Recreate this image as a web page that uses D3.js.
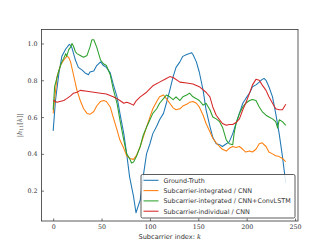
<!DOCTYPE html>
<html><head><meta charset="utf-8">
<script src="https://cdn.jsdelivr.net/npm/d3@7"></script>
<style>body{margin:0;background:#fff}svg{display:block}</style>
</head><body>
<svg id="c" width="332" height="249"></svg>
<script>
const kGT = [0,2.4,6,9,13,16.7,18,19.5,23,26,30,33,36.5,38,42,45,49,52,55,59,62,66,69,73,76,79,83,85.6,90,93,96.5,100,103,107,110,114,117,120.5,124,127,131,134,138,141,143,144.5,148,151,155,158,162,165,168.5,172,175,179,182,185.6,189,192.5,196,199,203,206,209.6,213,216,218,220,223,226.7,230,233.6,237,240.4];
const vGT = [0.525,0.69,0.84,0.93,0.97,0.995,0.99,0.975,0.91,0.87,0.855,0.84,0.83,0.845,0.85,0.88,0.90,0.88,0.87,0.84,0.78,0.71,0.62,0.51,0.40,0.275,0.17,0.08,0.15,0.275,0.40,0.455,0.51,0.55,0.585,0.62,0.675,0.745,0.82,0.87,0.90,0.93,0.94,0.945,0.95,0.94,0.90,0.845,0.745,0.64,0.55,0.49,0.455,0.45,0.44,0.455,0.465,0.51,0.565,0.62,0.675,0.70,0.73,0.765,0.775,0.79,0.805,0.81,0.80,0.765,0.71,0.62,0.51,0.385,0.24];

const kS = [0,4,7.5,11,14,16,18,21,24.6,28,31.5,35,38,42,45,49,52,55,59,62,66,69,73,76,79,83,86,90,93,96.5,100,103,107,110,114,117,120.5,124,127,131,134,138,141,144.5,148,151,155,158,162,165,168.5,172,175,179,182,185.6,189,192.5,196,199,203,206,209.6,213,216,220,223,226.7,230,233.6,237,239,240.4];
const vCNN = [0.62,0.82,0.88,0.91,0.93,0.925,0.90,0.83,0.745,0.69,0.645,0.62,0.615,0.63,0.66,0.685,0.69,0.685,0.655,0.60,0.53,0.475,0.43,0.39,0.375,0.37,0.39,0.44,0.49,0.545,0.60,0.645,0.685,0.71,0.72,0.70,0.675,0.65,0.64,0.645,0.66,0.67,0.68,0.685,0.675,0.655,0.61,0.565,0.52,0.485,0.46,0.44,0.425,0.415,0.43,0.44,0.435,0.44,0.425,0.41,0.415,0.41,0.425,0.455,0.46,0.44,0.41,0.40,0.39,0.385,0.375,0.365,0.357];

const kL = [0,1.5,6,9,11,13,14,16,18,19.5,21,23,24.6,28,31.5,35,38,40,42,45,49,52,55,59,62,66,69,73,76,79,81,83,86,90,93,96.5,100,103,107,110,114,117,120.5,124,127,131,134,138,141,144.5,148,151,155,158,162,165,168.5,172,175,179,182,185.6,187,189,192.5,196,199,203,206,209.6,213,216,220,223,226.7,230,232,233.6,237,240.4];
const vLSTM = [0.64,0.765,0.855,0.90,0.92,0.945,0.93,0.965,0.98,1.0,0.985,0.955,0.945,0.935,0.925,0.935,0.98,1.02,1.02,0.98,0.91,0.89,0.88,0.83,0.755,0.675,0.585,0.475,0.40,0.375,0.35,0.355,0.385,0.44,0.50,0.545,0.585,0.62,0.645,0.675,0.70,0.72,0.71,0.695,0.71,0.69,0.71,0.72,0.73,0.71,0.70,0.69,0.665,0.675,0.64,0.60,0.59,0.575,0.545,0.475,0.455,0.45,0.51,0.565,0.62,0.655,0.675,0.69,0.695,0.69,0.655,0.63,0.61,0.60,0.59,0.575,0.54,0.585,0.575,0.555];

const kR = [0,4,11,14,18,21,24.6,28,35,42,49,55,62,66,69,73,76,79,83,86,90,96.5,103,110,117,120.5,124,131,138,144.5,151,158,162,165,168.5,172,175,179,182,185.6,189,192.5,196,199,203,206,209.6,213,216,220,223,226.7,230,233.6,237,240.4];
const vIND = [0.69,0.68,0.69,0.70,0.715,0.73,0.735,0.745,0.74,0.735,0.73,0.725,0.71,0.70,0.69,0.675,0.68,0.675,0.665,0.69,0.71,0.735,0.77,0.79,0.81,0.82,0.815,0.79,0.785,0.78,0.765,0.735,0.71,0.655,0.61,0.585,0.565,0.555,0.56,0.56,0.57,0.59,0.64,0.675,0.73,0.775,0.805,0.80,0.775,0.745,0.71,0.675,0.645,0.64,0.64,0.67];

const seriesNames = ["Ground-Truth","Subcarrier-integrated / CNN","Subcarrier-integrated / CNN+ConvLSTM","Subcarrier-individual / CNN"];
const colors = ["#1f77b4","#ff7f0e","#2ca02c","#d62728"];
const xTicks = [0,50,100,150,200,250];
const yTicks = [0.2,0.4,0.6,0.8,1.0];

const series = [
  {k:kGT, v:vGT}, {k:kS, v:vCNN}, {k:kL, v:vLSTM}, {k:kR, v:vIND}
];

const svg = d3.select("#c");
const L = 41.5, R = 298, T = 29.5, B = 221;
const x = d3.scaleLinear().domain([-12.05, 253.05]).range([L, R]);
const y = d3.scaleLinear().domain([0.035, 1.076]).range([B, T]);

const line = d3.line().x(d => x(d[0])).y(d => y(d[1]));
series.forEach((s, i) => {
  svg.append("path")
    .attr("d", line(s.k.map((kk, j) => [kk, s.v[j]])))
    .attr("fill", "none").attr("stroke", colors[i])
    .attr("stroke-width", 1.05).attr("stroke-linejoin", "round");
});

// axes
const xa = d3.axisBottom(x).tickValues(xTicks).tickSize(-2.5).tickPadding(4).tickFormat(d3.format("d"));
const ya = d3.axisLeft(y).tickValues(yTicks).tickSize(-2.5).tickPadding(4).tickFormat(d3.format(".1f"));
const gx = svg.append("g").attr("transform", `translate(0,${B})`).call(xa);
const gy = svg.append("g").attr("transform", `translate(${L},0)`).call(ya);
[gx, gy].forEach(g => {
  g.select(".domain").remove();
  g.selectAll("line").attr("stroke", "#333").attr("stroke-width", 0.7);
  g.selectAll("text").attr("font-family", "DejaVu Serif, Liberation Serif, serif").attr("font-size", 6.3).attr("fill", "#333");
});
svg.append("rect").attr("x", L).attr("y", T).attr("width", R - L).attr("height", B - T)
  .attr("fill", "none").attr("stroke", "#333").attr("stroke-width", 0.8);

// labels
const xl = svg.append("text").attr("x", (L + R) / 2).attr("y", 238.5).attr("text-anchor", "middle")
  .attr("font-family", "DejaVu Sans, sans-serif").attr("font-size", 6.6).attr("fill", "#333");
xl.append("tspan").text("Subcarrier index: ");
xl.append("tspan").attr("font-family", "DejaVu Serif, serif").attr("font-style", "italic").text("k");

const yl = svg.append("text").attr("transform", `translate(21.5,${(T + B) / 2}) rotate(-90)`).attr("text-anchor", "middle")
  .attr("font-family", "DejaVu Serif, serif").attr("font-size", 6.6).attr("fill", "#555");
yl.append("tspan").text("|");
yl.append("tspan").attr("font-style", "italic").text("h");
yl.append("tspan").attr("font-size", 4.8).attr("dy", 1.5).text("11");
yl.append("tspan").attr("dy", -1.5).text("[");
yl.append("tspan").attr("font-style", "italic").text("k");
yl.append("tspan").text("]|");

// legend
const lg = svg.append("g");
lg.append("rect").attr("x", 141).attr("y", 174.5).attr("width", 154).attr("height", 43.5).attr("rx", 1.5)
  .attr("fill", "#fff").attr("fill-opacity", 0.85).attr("stroke", "#333").attr("stroke-width", 0.8);
seriesNames.forEach((n, i) => {
  const yy = 180.3 + i * 10.3;
  lg.append("line").attr("x1", 143.5).attr("x2", 158.5).attr("y1", yy).attr("y2", yy)
    .attr("stroke", colors[i]).attr("stroke-width", 1.05);
  lg.append("text").attr("x", 163.5).attr("y", yy + 2.3).text(n)
    .attr("font-family", "DejaVu Sans, sans-serif").attr("font-size", 6.4).attr("fill", "#333");
});
</script>
</body></html>
